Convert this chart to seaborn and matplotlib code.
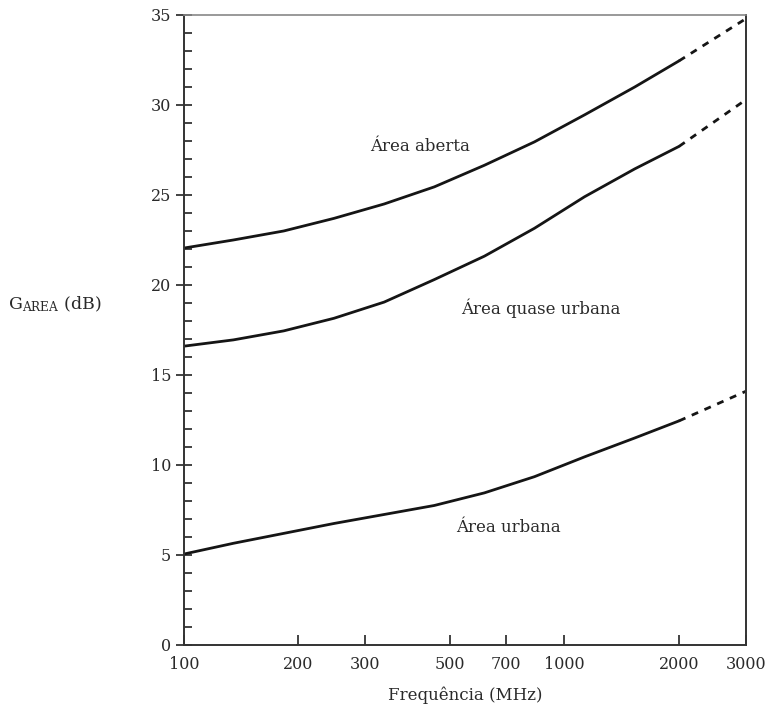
import numpy as np
import pandas as pd
import matplotlib
matplotlib.use("Agg")
import matplotlib.pyplot as plt
import seaborn as sns
from matplotlib.ticker import FixedLocator, MultipleLocator, NullLocator

# Frequencies (MHz) of the measured part of each curve
freq = [100, 135, 183, 248, 336, 455, 616, 834, 1129, 1530, 2000]
open_area = [22.05, 22.5, 23.0, 23.7, 24.5, 25.45, 26.65, 27.95, 29.45, 31.0, 32.45]
quasi_urban = [16.6, 16.95, 17.45, 18.15, 19.05, 20.3, 21.6, 23.15, 24.9, 26.45, 27.7]
urban = [5.05, 5.65, 6.2, 6.75, 7.25, 7.75, 8.45, 9.35, 10.45, 11.5, 12.45]

# Extrapolated part (dashed)
freq_ext = [2000, 3000]
open_area_ext = [32.45, 34.8]
quasi_urban_ext = [27.7, 30.3]
urban_ext = [12.45, 14.1]

x_ticks = [100, 200, 300, 500, 700, 1000, 2000, 3000]
y_ticks = [0, 5, 10, 15, 20, 25, 30, 35]

labels = ["Área aberta", "Área quase urbana", "Área urbana"]
label_pos_f = [418, 865, 712]
label_pos_g = [27.7, 18.7, 6.55]

sns.set_theme(style="white")
plt.rcParams["font.family"] = ["DejaVu Serif"]
plt.rcParams["mathtext.fontset"] = "dejavuserif"

curves = ["open", "quasi", "urban"]
solid = pd.DataFrame({
    "f": freq * 3,
    "g": open_area + quasi_urban + urban,
    "curve": sum([[c] * len(freq) for c in curves], []),
})
ext = pd.DataFrame({
    "f": freq_ext * 3,
    "g": open_area_ext + quasi_urban_ext + urban_ext,
    "curve": sum([[c] * len(freq_ext) for c in curves], []),
})

fig = plt.figure(figsize=(7.66, 7.13), dpi=100)
ax = fig.add_axes([0.240, 0.0954, 0.734, 0.8836])

ink = "#151515"
pal = {c: ink for c in curves}
sns.lineplot(data=solid, x="f", y="g", hue="curve", palette=pal, lw=2.0,
             legend=False, ax=ax, estimator=None, sort=False)
sns.lineplot(data=ext, x="f", y="g", hue="curve", palette=pal, lw=2.0,
             legend=False, ax=ax, estimator=None, sort=False)
for line in ax.get_lines()[len(curves):]:
    line.set_linestyle((0, (2.5, 2.5)))

ax.set_xscale("log")
ax.set_xlim(100, 3000)
ax.set_ylim(0, 35)

ax.xaxis.set_major_locator(FixedLocator(x_ticks))
ax.xaxis.set_minor_locator(NullLocator())
ax.set_xticklabels([str(t) for t in x_ticks])
ax.yaxis.set_major_locator(FixedLocator(y_ticks))
ax.yaxis.set_minor_locator(MultipleLocator(1))

txt_col = "#2a2a2a"
ax.tick_params(axis="x", which="major", direction="in", length=7, width=1.2,
               color="#222222", labelsize=11.5, pad=8, bottom=True, top=False,
               labelcolor=txt_col)
ax.tick_params(axis="y", which="major", direction="inout", length=12, width=1.2,
               color="#222222", labelsize=11.5, pad=3, left=True, right=False,
               labelcolor=txt_col)
ax.tick_params(axis="y", which="minor", direction="in", length=6, width=1.2,
               color="#222222", left=True, right=False)

for side in ["left", "bottom", "right"]:
    ax.spines[side].set_color("#333333")
    ax.spines[side].set_linewidth(1.4)
ax.spines["top"].set_color("#888888")
ax.spines["top"].set_linewidth(1.2)

ax.set_xlabel("Frequência (MHz)", fontsize=12, labelpad=10, color=txt_col)
ax.set_ylabel(r"G$_{\mathrm{AREA}}$ (dB)", fontsize=12.5, rotation=0,
              ha="left", va="center", color=txt_col)
ax.yaxis.set_label_coords(-0.312, 18.9 / 35)

for txt, f, g in zip(labels, label_pos_f, label_pos_g):
    ax.text(f, g, txt, fontsize=12, ha="center", va="center", color=txt_col)

fig.savefig("out.png", dpi=100, facecolor="white")
